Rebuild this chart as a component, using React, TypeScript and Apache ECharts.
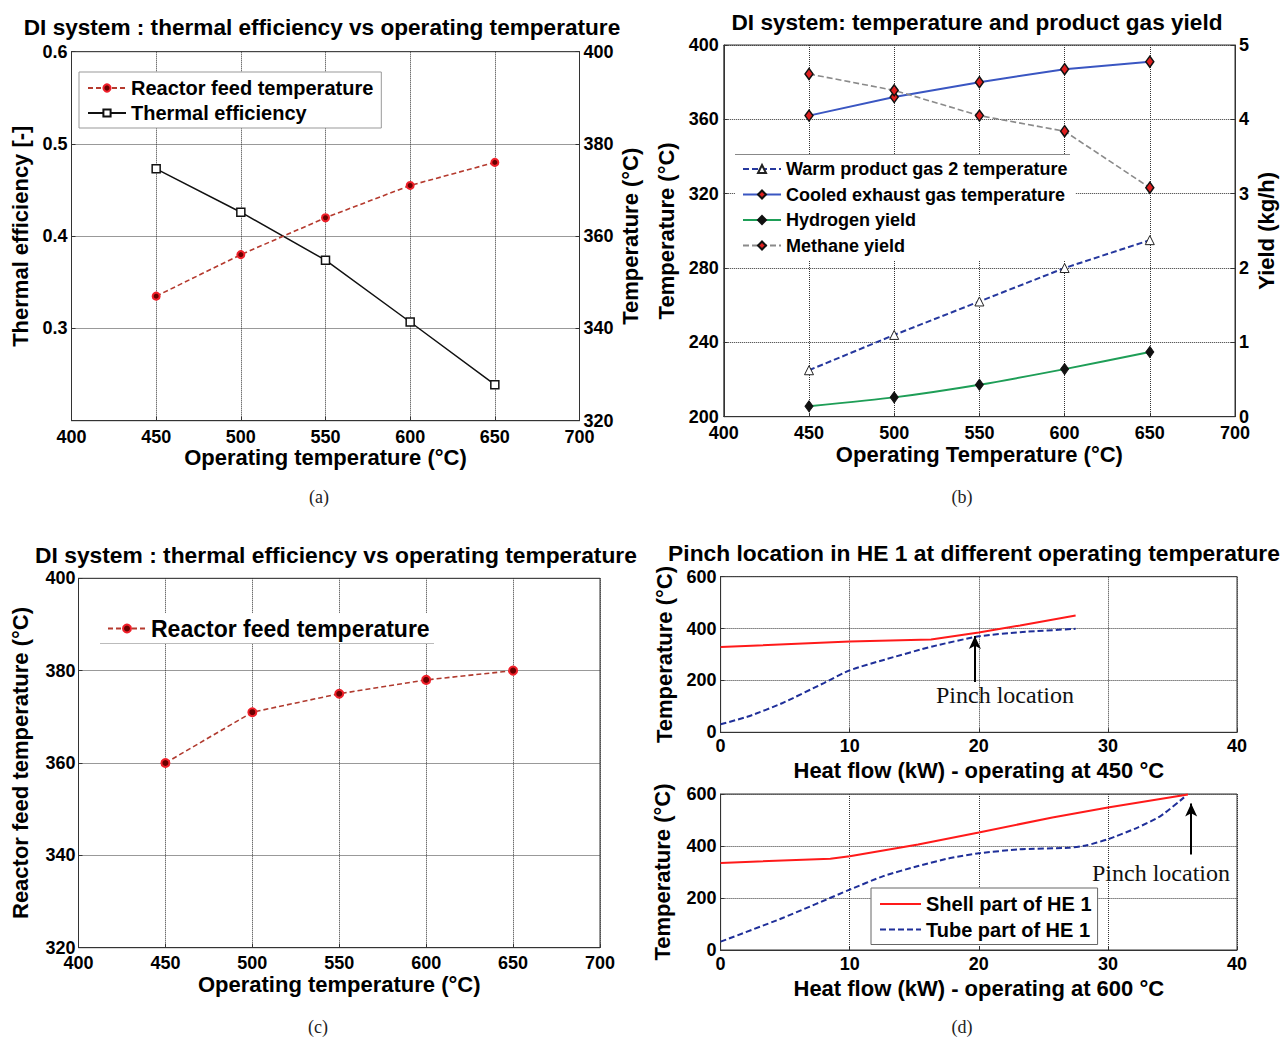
import React, { useEffect, useRef } from 'react';
import * as echarts from 'echarts';

// ---------- data ----------
const operatingTemps = [450, 500, 550, 600, 650];
// (a)
const thermalEfficiency = [0.473, 0.426, 0.374, 0.307, 0.239];
const reactorFeedTempA = [347, 356, 364, 371, 376];
// (b)
const warmProductGas2Temp = [225, 244, 262, 280, 295];
const cooledExhaustGasTemp = [362, 372, 380, 387, 391];
const hydrogenYield = [0.14, 0.26, 0.43, 0.64, 0.87];
const methaneYield = [4.61, 4.39, 4.05, 3.84, 3.08];
// (c)
const reactorFeedTempC = [360, 371, 375, 378, 380];
// (d) operating at 450 °C
const shellHeat450 = [0, 10, 16.3, 20, 23.2, 27.5];
const shellTemp450 = [329, 350, 358, 385, 412, 450];
const tubeHeat450 = [0, 2.2, 4.8, 8, 10, 12.7, 16.4, 20, 23.2, 27.5];
const tubeTemp450 = [31, 62, 113, 190, 239, 280, 331, 370, 386, 399];
// (d) operating at 600 °C
const shellHeat600 = [0, 8.5, 10, 15.3, 20, 25.7, 30, 36.2];
const shellTemp600 = [335, 351, 361, 406, 452, 510, 548, 598];
const tubeHeat600 = [0, 4.8, 10, 12.6, 15.3, 17.9, 20, 23.1, 27, 28.3, 30, 32.3, 34.1, 35.9];
const tubeTemp600 = [32, 123, 232, 284, 323, 355, 372, 387, 393, 402, 426, 471, 516, 587];
// pinch arrows (data coords: heat flow, tail temp, tip temp)
const pinch450 = [19.7, 194, 371];
const pinch600 = [36.45, 367, 563];

const SANS = "'Liberation Sans', Arial, sans-serif";
const SERIF = "'Liberation Serif', 'Times New Roman', serif";

const pair = (xs: number[], ys: number[]) => xs.map((x, i) => [x, ys[i]]);

const nameStyle = { fontSize: 22, fontWeight: 'bold', color: '#000', fontFamily: SANS };
const labelStyle = { fontSize: 18, fontWeight: 'bold', color: '#000', fontFamily: SANS };

function xAx(gridIndex: number, min: number, max: number, interval: number, name: string, nameGap: number, margin: number) {
  return {
    type: 'value', gridIndex, min, max, interval, name, nameLocation: 'middle', nameGap,
    nameTextStyle: nameStyle,
    axisLine: { show: true, onZero: false, lineStyle: { color: '#333', width: 1 } },
    axisTick: { show: true, inside: true, length: 4, lineStyle: { color: '#333' } },
    axisLabel: { ...labelStyle, margin, showMinLabel: true, showMaxLabel: true },
    splitLine: { show: true, lineStyle: { type: 'dotted', color: '#333', width: 1 } },
  };
}

function yAx(gridIndex: number, position: string, min: number, max: number, interval: number, name: string, nameGap: number, margin: number, split: boolean, formatter?: any) {
  return {
    type: 'value', gridIndex, position, min, max, interval, name, nameLocation: 'middle', nameGap,
    nameTextStyle: nameStyle,
    axisLine: { show: true, onZero: false, lineStyle: { color: '#333', width: 1 } },
    axisTick: { show: true, inside: true, length: 4, lineStyle: { color: '#333' } },
    axisLabel: { ...labelStyle, margin, showMinLabel: true, showMaxLabel: true, ...(formatter ? { formatter } : {}) },
    splitLine: { show: split, lineStyle: { type: 'dotted', color: '#333', width: 1 } },
  };
}

function gridBox(l: number, t: number, r: number, b: number) {
  return { left: l, top: t, width: r - l, height: b - t, show: true, borderColor: '#333', borderWidth: 1 };
}

function txt(text: string, x: number, y: number, fontSize: number, bold: boolean, family: string, color = '#000') {
  return {
    type: 'text', x, y, z: 100,
    style: {
      text, fontSize, fontWeight: bold ? 'bold' : 'normal', fontFamily: family, fill: color,
      align: 'center', verticalAlign: 'middle', textAlign: 'center', textVerticalAlign: 'middle',
    },
  };
}

const legendText = (size: number) => ({ fontSize: size, fontWeight: 'bold', color: '#000', fontFamily: SANS });

export default function App() {
  const ref = useRef<HTMLDivElement>(null);
  useEffect(() => {
    if (!ref.current) return;
    const chart = echarts.init(ref.current, undefined, { renderer: 'svg' });
    const option: any = {
      animation: false,
      backgroundColor: '#fff',
      grid: [
        gridBox(71.5, 51.7, 579.5, 420.7),
        gridBox(723.8, 45, 1235, 416.7),
        gridBox(78.5, 578.3, 600, 947.7),
        gridBox(720.6, 576.7, 1237, 732.3),
        gridBox(720.6, 794, 1237, 950),
      ],
      xAxis: [
        xAx(0, 400, 700, 50, 'Operating temperature (°C)', 25, 7),
        xAx(1, 400, 700, 50, 'Operating Temperature (°C)', 27, 7),
        xAx(2, 400, 700, 50, 'Operating temperature (°C)', 26, 6),
        xAx(3, 0, 40, 10, 'Heat flow (kW) - operating at 450 °C', 27, 5),
        xAx(4, 0, 40, 10, 'Heat flow (kW) - operating at 600 °C', 27, 5),
      ],
      yAxis: [
        yAx(0, 'left', 0.2, 0.6, 0.1, 'Thermal efficiency [-]', 40, 4, true,
          (v: number) => (v < 0.25 ? '' : v.toFixed(1))),
        yAx(0, 'right', 320, 400, 20, 'Temperature (°C)', 40, 4, false),
        yAx(1, 'left', 200, 400, 40, 'Temperature (°C)', 46, 5, true),
        yAx(1, 'right', 0, 5, 1, 'Yield (kg/h)', 20, 4, false),
        yAx(2, 'left', 320, 400, 20, 'Reactor feed temperature (°C)', 47, 3, true),
        yAx(3, 'left', 0, 600, 200, 'Temperature (°C)', 45, 4, true),
        yAx(4, 'left', 0, 600, 200, 'Temperature (°C)', 47, 4, true),
      ],
      legend: [
        {
          selectedMode: false, orient: 'vertical', left: 79, top: 72,
          padding: [6, 8, 5, 8], itemGap: 5, itemWidth: 38, itemHeight: 9,
          backgroundColor: '#fff', borderColor: '#999', borderWidth: 1,
          textStyle: legendText(20),
          data: ['Reactor feed temperature', 'Thermal efficiency'],
        },
        {
          selectedMode: false, orient: 'vertical', left: 735, top: 154,
          padding: [6, 8, 6, 7], itemGap: 7.5, itemWidth: 38, itemHeight: 10,
          backgroundColor: '#fff', borderWidth: 0,
          textStyle: legendText(18),
          data: ['Warm product gas 2 temperature', 'Cooled exhaust gas temperature', 'Hydrogen yield', 'Methane yield'],
        },
        {
          selectedMode: false, orient: 'vertical', left: 100, top: 613,
          padding: [4, 12, 4, 7], itemWidth: 38, itemHeight: 10,
          backgroundColor: '#fff', borderWidth: 0,
          textStyle: legendText(23),
          data: ['Reactor feed temperature'],
        },
        {
          selectedMode: false, orient: 'vertical', left: 871, top: 888,
          padding: [6, 6, 5, 8], itemGap: 5.5, itemWidth: 41, itemHeight: 10,
          backgroundColor: '#fff', borderColor: '#666', borderWidth: 1,
          itemStyle: { opacity: 0 },
          textStyle: legendText(20),
          data: ['Shell part of HE 1', 'Tube part of HE 1'],
        },
      ],
      series: [
        // (a)
        {
          name: 'Thermal efficiency', type: 'line', xAxisIndex: 0, yAxisIndex: 0,
          data: pair(operatingTemps, thermalEfficiency),
          symbol: 'rect', symbolSize: 8,
          lineStyle: { color: '#111', width: 1.5, type: 'solid' },
          itemStyle: { color: '#fff', borderColor: '#111', borderWidth: 1.5 },
        },
        {
          name: 'Reactor feed temperature', type: 'line', xAxisIndex: 0, yAxisIndex: 1,
          data: pair(operatingTemps, reactorFeedTempA),
          symbol: 'circle', symbolSize: 7,
          lineStyle: { color: '#b53a2e', width: 1.6, type: [5, 3] },
          itemStyle: { color: '#6a0000', borderColor: '#f0202a', borderWidth: 2 },
        },
        // (b)
        {
          name: 'Warm product gas 2 temperature', type: 'line', xAxisIndex: 1, yAxisIndex: 2,
          data: pair(operatingTemps, warmProductGas2Temp),
          symbol: 'triangle', symbolSize: 9,
          lineStyle: { color: '#26389e', width: 2, type: [6, 3] },
          itemStyle: { color: '#fff', borderColor: '#222', borderWidth: 1 },
        },
        {
          name: 'Cooled exhaust gas temperature', type: 'line', xAxisIndex: 1, yAxisIndex: 2,
          data: pair(operatingTemps, cooledExhaustGasTemp),
          symbol: 'diamond', symbolSize: [8, 11],
          lineStyle: { color: '#3a56c2', width: 2, type: 'solid' },
          itemStyle: { color: '#e02020', borderColor: '#111', borderWidth: 1.5 },
        },
        {
          name: 'Hydrogen yield', type: 'line', xAxisIndex: 1, yAxisIndex: 3,
          data: pair(operatingTemps, hydrogenYield),
          symbol: 'diamond', symbolSize: [8, 11], smooth: 0.2,
          lineStyle: { color: '#1e9e57', width: 2, type: 'solid' },
          itemStyle: { color: '#111', borderColor: '#111', borderWidth: 1 },
        },
        {
          name: 'Methane yield', type: 'line', xAxisIndex: 1, yAxisIndex: 3,
          data: pair(operatingTemps, methaneYield),
          symbol: 'diamond', symbolSize: [8, 11],
          lineStyle: { color: '#8a8a8a', width: 1.6, type: [6, 3] },
          itemStyle: { color: '#e02020', borderColor: '#111', borderWidth: 1.5 },
        },
        // (c)
        {
          name: 'Reactor feed temperature', type: 'line', xAxisIndex: 2, yAxisIndex: 4,
          data: pair(operatingTemps, reactorFeedTempC),
          symbol: 'circle', symbolSize: 8,
          lineStyle: { color: '#b03a2e', width: 1.6, type: [5, 3] },
          itemStyle: { color: '#6a0000', borderColor: '#f0202a', borderWidth: 2 },
        },
        // (d) top
        {
          name: 'Shell part of HE 1', type: 'line', xAxisIndex: 3, yAxisIndex: 5,
          data: pair(shellHeat450, shellTemp450), showSymbol: false, symbol: 'none',
          lineStyle: { color: '#ff1a1a', width: 2, type: 'solid' },
          itemStyle: { color: '#ff1a1a' },
        },
        {
          name: 'Tube part of HE 1', type: 'line', xAxisIndex: 3, yAxisIndex: 5,
          data: pair(tubeHeat450, tubeTemp450), showSymbol: false, symbol: 'none', smooth: 0.2,
          lineStyle: { color: '#1f2f99', width: 2, type: [6, 3] },
          itemStyle: { color: '#1f2f99' },
          markLine: {
            silent: true, symbol: ['none', 'arrow'], symbolSize: [9, 13],
            lineStyle: { color: '#000', width: 2, type: 'solid' },
            label: { show: false },
            data: [[{ coord: [pinch450[0], pinch450[1]] }, { coord: [pinch450[0], pinch450[2]] }]],
          },
        },
        // (d) bottom
        {
          name: 'Shell part of HE 1', type: 'line', xAxisIndex: 4, yAxisIndex: 6,
          data: pair(shellHeat600, shellTemp600), showSymbol: false, symbol: 'none',
          lineStyle: { color: '#ff1a1a', width: 2, type: 'solid' },
          itemStyle: { color: '#ff1a1a' },
        },
        {
          name: 'Tube part of HE 1', type: 'line', xAxisIndex: 4, yAxisIndex: 6,
          data: pair(tubeHeat600, tubeTemp600), showSymbol: false, symbol: 'none', smooth: 0.2,
          lineStyle: { color: '#1f2f99', width: 2, type: [6, 3] },
          itemStyle: { color: '#1f2f99' },
          markLine: {
            silent: true, symbol: ['none', 'arrow'], symbolSize: [9, 13],
            lineStyle: { color: '#000', width: 2, type: 'solid' },
            label: { show: false },
            data: [[{ coord: [pinch600[0], pinch600[1]] }, { coord: [pinch600[0], pinch600[2]] }]],
          },
        },
      ],
      graphic: [
        txt('DI system : thermal efficiency vs operating temperature', 322, 27, 22.6, true, SANS),
        txt('DI system: temperature and product gas yield', 977, 22, 22.6, true, SANS),
        txt('DI system : thermal efficiency vs operating temperature', 336, 555, 22.8, true, SANS),
        txt('Pinch location in HE 1 at different operating temperature', 974, 553, 22.8, true, SANS),
        txt('(a)', 319, 497, 18, false, SERIF, '#222'),
        txt('(b)', 962, 497, 18, false, SERIF, '#222'),
        txt('(c)', 318, 1027, 18, false, SERIF, '#222'),
        txt('(d)', 962, 1027, 18, false, SERIF, '#222'),
        txt('Pinch location', 1005, 695, 24, false, SERIF, '#111'),
        txt('Pinch location', 1161, 873, 24, false, SERIF, '#111'),
        {
          type: 'line', z: 100,
          shape: { x1: 735, y1: 154.5, x2: 1070, y2: 154.5 },
          style: { stroke: '#888', lineWidth: 1 },
        },
        {
          type: 'line', z: 100,
          shape: { x1: 100, y1: 643.5, x2: 434, y2: 643.5 },
          style: { stroke: '#bbb', lineWidth: 1 },
        },
      ],
    };
    chart.setOption(option);
    return () => chart.dispose();
  }, []);
  return (
    <div
      ref={ref}
      style={{ position: 'absolute', left: 0, top: 0, width: 1282, height: 1038, background: '#fff' }}
    />
  );
}
